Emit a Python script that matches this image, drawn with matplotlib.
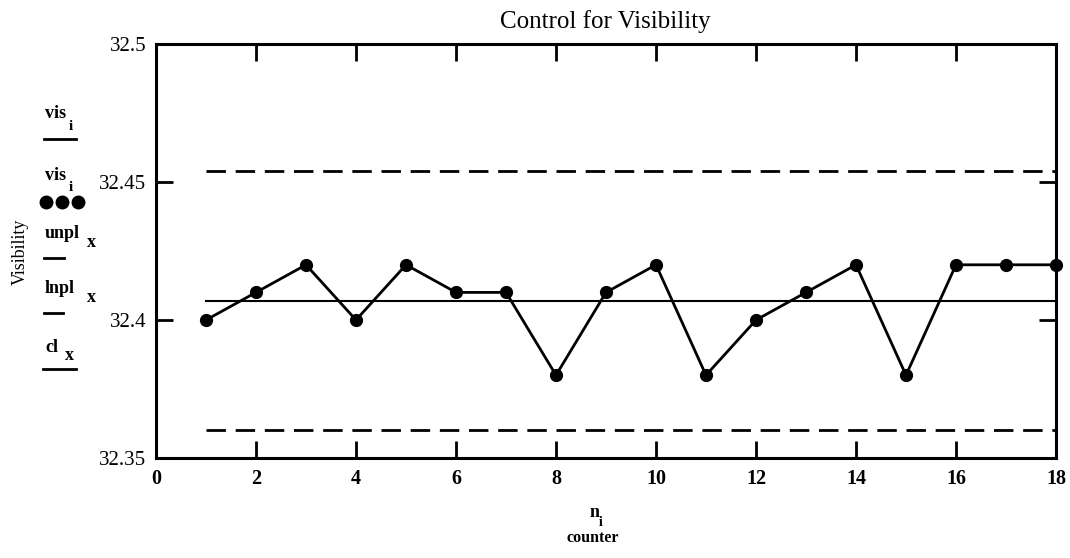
import matplotlib
matplotlib.use("Agg")
import matplotlib.pyplot as plt
from matplotlib.lines import Line2D

# Visibility readings per sample
counter = [1, 2, 3, 4, 5, 6, 7, 8, 9, 10, 11, 12, 13, 14, 15, 16, 17, 18]
visibility = [32.40, 32.41, 32.42, 32.40, 32.42, 32.41, 32.41, 32.38, 32.41,
              32.42, 32.38, 32.40, 32.41, 32.42, 32.38, 32.42, 32.42, 32.42]

# Control limits (individuals chart)
center_line = 32.407
upper_limit = 32.454
lower_limit = 32.360

x_ticks = [0, 2, 4, 6, 8, 10, 12, 14, 16, 18]
y_ticks = [32.35, 32.4, 32.45, 32.5]
y_tick_labels = ["32.35", "32.4", "32.45", "32.5"]

W, H = 1070, 558
plt.rcParams["font.family"] = ["Liberation Serif", "DejaVu Serif"]

fig = plt.figure(figsize=(W / 100, H / 100), dpi=100)
ax = fig.add_axes([156 / W, 1 - 458 / H, 900 / W, 414 / H])

lw_dash = 2.0
ax.plot([counter[0], counter[-1]], [upper_limit, upper_limit], color="black",
        lw=lw_dash, linestyle=(0, (14 / lw_dash, 7 / lw_dash)))
ax.plot([counter[0], counter[-1]], [lower_limit, lower_limit], color="black",
        lw=lw_dash, linestyle=(0, (14 / lw_dash, 7 / lw_dash)))
ax.plot([counter[0], counter[-1]], [center_line, center_line], color="black", lw=1.5)
ax.plot(counter, visibility, color="black", lw=2.0, marker="o", ms=8.5, clip_on=False)

ax.set_xlim(0, 18)
ax.set_ylim(32.35, 32.5)
ax.set_xticks(x_ticks)
ax.set_yticks(y_ticks)
ax.set_yticklabels(y_tick_labels)
ax.tick_params(direction="in", length=12, width=2, top=True, right=True)
ax.tick_params(axis="x", pad=8, labelsize=14.5)
ax.tick_params(axis="y", pad=7, labelsize=15)
for lab in ax.get_xticklabels():
    lab.set_fontweight("bold")
for sp in ax.spines.values():
    sp.set_linewidth(2.2)

fig.text(605 / W, 1 - 22 / H, "Control for Visibility", ha="center", va="center",
         fontsize=18)


def px(x, y):
    return x / W, 1 - y / H


def label(x, y, s, size=13, weight="bold"):
    fig.text(*px(x, y), s, ha="left", va="baseline", fontsize=size, fontweight=weight)


def hline(x0, x1, y, lw=2.0):
    fig.add_artist(Line2D([x0 / W, x1 / W], [1 - y / H, 1 - y / H],
                          transform=fig.transFigure, color="black", lw=lw))


# Left-hand trace key
label(45, 118, "vis")
label(69, 130, "i", size=11)
hline(44, 76, 139)

label(45, 180, "vis")
label(69, 191, "i", size=11)
for dx in (46, 62, 78):
    fig.add_artist(Line2D([dx / W], [1 - 202 / H], transform=fig.transFigure,
                          marker="o", ms=9, color="black", lw=0))

label(45, 238, "unpl")
label(87, 247, "x")
hline(44, 64, 258)

label(45, 293, "lnpl")
label(87, 302, "x")
hline(44, 63, 313)

label(45, 352, "cl")
label(65, 360, "x")
hline(43, 76, 369)

fig.text(*px(20, 252), "Visibility", rotation=90, ha="center", va="center", fontsize=13)

# Axis label under the plot
label(590, 517, "n", size=13)
label(599, 526, "i", size=10)
fig.text(*px(593, 538), "counter", ha="center", va="center", fontsize=11.5, fontweight="bold")

fig.savefig("out.png", dpi=100)
